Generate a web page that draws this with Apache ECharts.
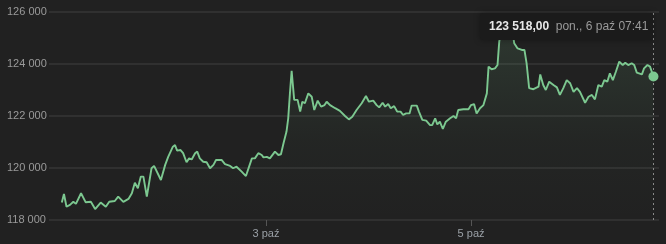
<!DOCTYPE html>
<html>
<head>
<meta charset="utf-8">
<script src="https://cdn.jsdelivr.net/npm/echarts@6/dist/echarts.min.js"></script>
<style>
html,body{margin:0;padding:0;background:#212121;}
#c{width:666px;height:244px;}
</style>
</head>
<body>
<div id="c"></div>
<script>
// hours since 2025-10-01 00:00 (local)
const hours = [0.2,0.7,1.3,2.1,2.9,3.5,4.7,5.8,7.0,8.0,9.3,10.5,11.3,12.6,13.4,14.6,15.8,16.6,17.3,18.0,18.7,19.3,20.1,21.2,21.8,23.4,24.4,25.1,26.2,26.7,27.2,28.0,28.6,29.4,30.0,30.6,31.4,31.9,32.5,33.3,34.1,34.9,35.7,36.3,37.6,38.4,39.6,40.3,41.1,42.3,43.3,44.1,44.7,45.4,46.2,47.0,47.4,48.2,48.9,50.1,50.9,51.5,52.1,52.8,53.2,53.6,54.0,54.6,55.4,56.0,56.5,57.1,57.9,58.7,59.3,60.1,60.9,61.7,62.2,63.0,64.2,65.3,66.5,67.4,68.2,69.2,70.4,71.4,72.1,73.1,73.9,74.5,75.3,75.9,76.6,77.2,78.0,78.7,79.5,80.1,80.8,81.6,82.1,83.3,83.8,84.6,85.5,86.4,86.9,87.6,88.1,88.7,89.4,90.1,91.1,91.9,92.5,93.0,94.2,95.4,96.0,96.7,97.3,98.1,98.9,99.7,100.1,100.8,101.6,102.2,102.6,103.0,103.7,104.4,105.1,105.8,106.1,106.9,107.3,107.9,108.5,109.0,109.6,110.6,111.8,112.2,112.9,113.5,114.3,115.3,116.1,116.8,117.6,118.4,119.2,120.0,120.8,121.5,122.7,123.5,124.3,125.0,125.8,126.6,127.2,127.9,128.5,129.2,129.9,130.7,131.5,132.1,132.8,133.6,134.2,134.8,136.0,136.5,137.3,137.9,138.7];
const prices = [118670,119000,118510,118580,118700,118620,119030,118680,118700,118420,118670,118510,118700,118730,118900,118700,118810,119030,119430,119220,119670,119670,118900,119990,120080,119540,120120,120430,120820,120880,120670,120690,120570,120220,120370,120330,120570,120630,120370,120240,120220,119990,120120,120310,120310,120150,120080,119990,120050,119860,119690,120080,120370,120370,120570,120500,120410,120430,120370,120630,120500,120530,120950,121400,121910,122870,123740,122620,122620,122170,122550,122490,122870,122740,122230,122590,122360,122420,122550,122420,122300,122200,122000,121870,121970,122230,122490,122770,122550,122590,122420,122330,122510,122360,122460,122300,122380,122170,122170,122040,122100,122100,122400,122400,122170,121850,121820,121650,121650,121910,121680,121780,121500,121780,121910,122000,121910,122230,122260,122260,122420,122460,122100,122300,122420,122870,123900,123800,123830,123960,124860,125230,125460,125350,125500,125150,124800,124600,124600,124540,124540,124030,123070,123030,123130,123600,123190,123000,123320,123190,123100,122810,123070,123380,123260,122930,123070,122930,122510,122740,122810,122640,123190,123130,123380,123320,123640,123380,123700,124090,123960,124050,123960,124030,123960,123670,123600,123830,123960,123900,123518];
const xTickDays = [3, 5];
const yTicks = [118000, 120000, 122000, 124000, 126000];
const tipDate = 'pon., 6 paź 07:41';

const base = new Date(2025, 9, 1).getTime();
const H = 3600000;
const data = hours.map((h, i) => [base + h * H, prices[i]]);
const last = data[data.length - 1];
const tickVals = xTickDays.map(d => new Date(2025, 9, d).getTime());
const fmtThousands = v => String(Math.trunc(v)).replace(/\B(?=(\d{3})+(?!\d))/g, ' ');
const fmtPrice = v => fmtThousands(v) + ',' + (Math.round((v % 1) * 100) + '').padStart(2, '0');
const green = '#7cc890';
const FONT = "'Liberation Sans', Arial, sans-serif";

const chart = echarts.init(document.getElementById('c'), null, {renderer: 'canvas'});
chart.setOption({
  animation: false,
  backgroundColor: '#212121',
  textStyle: {fontFamily: FONT},
  grid: {left: 49, right: 7, top: 12, bottom: 24},
  xAxis: {
    type: 'value',
    min: base - 2.8 * H,
    max: base + 140.0 * H,
    axisLine: {show: false, onZero: false},
    axisTick: {show: true, customValues: tickVals, length: 6, lineStyle: {color: '#555'}},
    axisLabel: {show: true, customValues: tickVals, color: '#9aa0a6', fontSize: 11, margin: 8,
      fontFamily: FONT,
      formatter: v => new Date(v).getDate() + ' paź'},
    splitLine: {show: false}
  },
  yAxis: {
    type: 'value',
    min: yTicks[0],
    max: yTicks[yTicks.length - 1],
    interval: 2000,
    axisLine: {show: false},
    axisTick: {show: false},
    axisLabel: {color: '#9a9a9a', fontSize: 11, align: 'left', margin: 42, fontFamily: FONT,
      formatter: v => fmtThousands(v)},
    splitLine: {lineStyle: {color: '#363636', width: 1.5}}
  },
  series: [{
    type: 'line',
    data: data,
    showSymbol: false,
    lineStyle: {color: green, width: 1.9},
    areaStyle: {
      color: new echarts.graphic.LinearGradient(0, 0, 0, 1, [
        {offset: 0, color: 'rgba(124,200,144,0.20)'},
        {offset: 0.6, color: 'rgba(124,200,144,0.04)'},
        {offset: 1, color: 'rgba(124,200,144,0.0)'}
      ])
    },
    markLine: {
      silent: true,
      symbol: ['none', 'none'],
      label: {show: false},
      lineStyle: {color: '#8a8a8a', type: [2, 3], width: 1},
      data: [{xAxis: last[0]}]
    },
    z: 2
  }, {
    type: 'scatter',
    data: [last],
    symbolSize: 10,
    itemStyle: {color: green, opacity: 1},
    z: 5
  }],
  graphic: [{
    type: 'group',
    right: 13,
    top: 13,
    z: 100,
    children: [{
      type: 'rect',
      shape: {x: 0, y: 0, width: 173, height: 27, r: 3},
      style: {fill: '#1b1b1b', shadowBlur: 6, shadowColor: 'rgba(0,0,0,0.35)'},
      z: 100
    }, {
      type: 'text',
      x: 9, y: 14,
      style: {
        text: '{v|' + fmtPrice(last[1]) + '}  {d|' + tipDate + '}',
        verticalAlign: 'middle',
        rich: {
          v: {fontSize: 12, fontWeight: 'bold', fill: '#e8e8e8', fontFamily: FONT},
          d: {fontSize: 12, fill: '#9a9a9a', fontFamily: FONT}
        }
      },
      z: 101
    }]
  }]
});
</script>
</body>
</html>
